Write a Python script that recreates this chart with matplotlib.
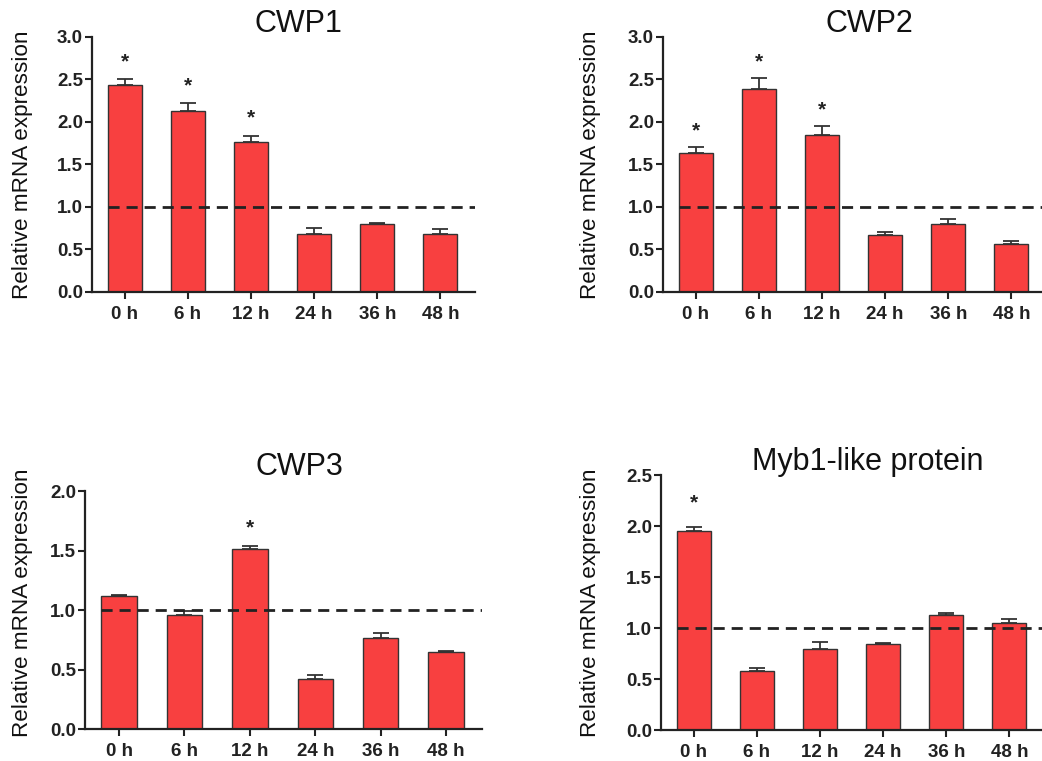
"""Relative mRNA expression of CWP1/2/3 and Myb1-like protein over time."""
import matplotlib

matplotlib.use("Agg")
import matplotlib.pyplot as plt

plt.rcParams["font.family"] = ["Liberation Sans", "DejaVu Sans"]

hours = ["0 h", "6 h", "12 h", "24 h", "36 h", "48 h"]

cwp1_mean = [2.43, 2.13, 1.77, 0.68, 0.80, 0.68]
cwp1_err = [0.07, 0.09, 0.07, 0.07, 0.01, 0.06]
cwp1_star = [True, True, True, False, False, False]

cwp2_mean = [1.64, 2.39, 1.85, 0.67, 0.80, 0.57]
cwp2_err = [0.06, 0.13, 0.10, 0.03, 0.06, 0.03]
cwp2_star = [True, True, True, False, False, False]

cwp3_mean = [1.12, 0.96, 1.51, 0.42, 0.765, 0.645]
cwp3_err = [0.005, 0.03, 0.03, 0.035, 0.045, 0.015]
cwp3_star = [False, False, True, False, False, False]

myb1_mean = [1.95, 0.58, 0.79, 0.84, 1.13, 1.05]
myb1_err = [0.04, 0.03, 0.07, 0.01, 0.02, 0.035]
myb1_star = [True, False, False, False, False, False]

BAR_COLOR = "#f84040"


def _panel(fig, rect, title, mean, err, star, ymax, star_gap,
           title_pad, label_x, label_y=0.5):
    ax = fig.add_axes(rect)
    x = list(range(len(hours)))
    ax.bar(x, mean, width=0.54, color=BAR_COLOR, edgecolor="#333333",
           linewidth=1.0, zorder=2)
    ax.errorbar(x, mean, yerr=[[0] * len(err), err], fmt="none",
                ecolor="#333333", elinewidth=1.3, capsize=6, capthick=1.3,
                zorder=1)
    ax.hlines(1.0, -0.27, 5.55, colors="#222222", linestyles=(0, (4, 2.5)),
              linewidth=2, zorder=3)
    for i, s in enumerate(star):
        if s:
            ax.text(i, mean[i] + err[i] + star_gap, "*", ha="center",
                    va="center", fontsize=15, fontweight="bold", color="#222222")

    ax.set_xlim(-0.52, 5.55)
    ax.set_ylim(0, ymax)
    ticks = [k * 0.5 for k in range(int(round(ymax / 0.5)) + 1)]
    ax.set_yticks(ticks)
    ax.set_yticklabels([f"{t:.1f}" for t in ticks])
    ax.set_xticks(x)
    ax.set_xticklabels(hours)
    for lab in ax.get_xticklabels() + ax.get_yticklabels():
        lab.set_fontweight("bold")
        lab.set_fontsize(13.5)
        lab.set_color("#222222")
    ax.tick_params(direction="out", length=5, width=1.5, color="#222222", pad=1.5)
    ax.tick_params(axis="x", pad=5)
    for side in ("top", "right"):
        ax.spines[side].set_visible(False)
    for side in ("left", "bottom"):
        ax.spines[side].set_linewidth(1.6)
        ax.spines[side].set_color("#222222")
    ax.set_ylabel("Relative mRNA expression", fontsize=16.2, color="#111111")
    ax.yaxis.set_label_coords(label_x, label_y)
    ax.set_title(title, fontsize=22, x=0.54, y=1.0, pad=title_pad,
                 color="#111111")
    return ax


fig = plt.figure(figsize=(10.42, 7.61), dpi=100)
_panel(fig, [0.0883, 0.6163, 0.3676, 0.3351], "CWP1",
       cwp1_mean, cwp1_err, cwp1_star, 3.0, 0.21, 3.5, -0.154)
_panel(fig, [0.6363, 0.6163, 0.3676, 0.3351], "CWP2",
       cwp2_mean, cwp2_err, cwp2_star, 3.0, 0.19, 3.5, -0.162)
_panel(fig, [0.0816, 0.0420, 0.3810, 0.3127], "CWP3",
       cwp3_mean, cwp3_err, cwp3_star, 2.0, 0.15, 11.5, -0.131, 0.53)
_panel(fig, [0.6344, 0.0407, 0.3676, 0.3350], "Myb1-like protein",
       myb1_mean, myb1_err, myb1_star, 2.5, 0.24, 3.5, -0.156)

fig.savefig("out.png", dpi=100)
